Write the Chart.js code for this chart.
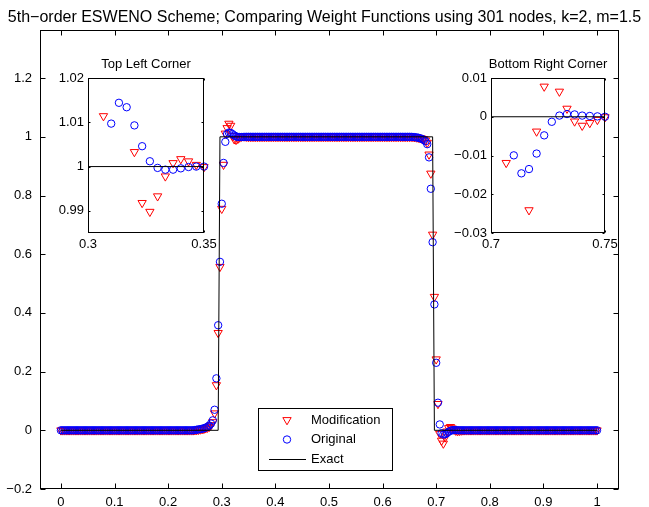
<!DOCTYPE html>
<html>
<head>
<meta charset="utf-8">
<script src="https://cdn.jsdelivr.net/npm/chart.js@4.4.1/dist/chart.umd.min.js"></script>
<style>
    body { margin: 0; background: #fff; }
    #wrap { position: relative; width: 649px; height: 507px; }
    #wrap canvas { position: absolute; }
</style>
</head>
<body>
<div id="wrap">
    <canvas id="main" width="649" height="507" style="left:0;top:0;"></canvas>
    <canvas id="tl" width="212" height="205" style="left:40px;top:50px;"></canvas>
    <canvas id="br" width="216" height="205" style="left:440px;top:50px;"></canvas>
</div>
<script>
// 301 nodes on [0, 1]
const nodeCount = 301;
const nodeStep = 1 / 300;

const modValues = [
    0,0,0,0,0,0,0,0,0,0,0,0,0,0,0,0,0,0,0,0,0,0,0,0,0,
    0,0,0,0,0,0,0,0,0,0,0,0,0,0,0,0,0,0,0,0,0,0,0,0,0,
    0,0,0,0,0,0,0,0,0,0,0,0,0,0,0,0,0,0,0,0,0,0,0,0,0,
    0.0005,0.001,0.002,0.003,0.004,0.005,0.007,0.009,0.012,0.018,0.028,0.058,0.154,0.332,0.557,0.755,0.905,1.0114,1.03,1.045,1.038,1.0033,0.9918,0.9898,0.9933,
    0.9978,1.0008,1.0017,1.0012,1.0004,0.9999,1,1,1,1,1,1,1,1,1,1,1,1,1,1,1,1,1,1,1,
    1,1,1,1,1,1,1,1,1,1,1,1,1,1,1,1,1,1,1,1,1,1,1,1,1,
    1,1,1,1,1,1,1,1,1,1,1,1,1,1,1,1,1,1,1,1,1,1,1,1,1,
    1,1,1,1,1,1,1,1,1,1,1,1,1,1,1,1,1,1,1,1,1,1,0.9995,0.999,0.998,
    0.997,0.996,0.994,0.992,0.988,0.98,0.94,0.875,0.667,0.455,0.242,0.09,-0.0119,-0.035,-0.045,-0.0241,-0.0038,0.0078,0.0115,0.0065,0.0021,-0.0012,-0.0023,-0.0016,-0.0008,
    -0.0001,0,0,0,0,0,0,0,0,0,0,0,0,0,0,0,0,0,0,0,0,0,0,0,0,
    0,0,0,0,0,0,0,0,0,0,0,0,0,0,0,0,0,0,0,0,0,0,0,0,0,
    0,0,0,0,0,0,0,0,0,0,0,0,0,0,0,0,0,0,0,0,0,0,0,0,0,
    0
];

const origValues = [
    0,0,0,0,0,0,0,0,0,0,0,0,0,0,0,0,0,0,0,0,0,0,0,0,0,
    0,0,0,0,0,0,0,0,0,0,0,0,0,0,0,0,0,0,0,0,0,0,0,0,0,
    0,0,0,0,0,0,0,0,0,0,0,0,0,0,0,0,0,0,0,0,0,0,0,0,0,
    0.001,0.002,0.003,0.004,0.005,0.007,0.009,0.012,0.016,0.023,0.034,0.07,0.177,0.358,0.574,0.772,0.911,0.983,1.0097,1.0144,1.0134,1.0093,1.0046,1.0012,0.9997,
    0.9993,0.9993,0.9996,0.9999,1,1,1,1,1,1,1,1,1,1,1,1,1,1,1,1,1,1,1,1,1,
    1,1,1,1,1,1,1,1,1,1,1,1,1,1,1,1,1,1,1,1,1,1,1,1,1,
    1,1,1,1,1,1,1,1,1,1,1,1,1,1,1,1,1,1,1,1,1,1,1,1,1,
    1,1,1,1,1,1,1,1,1,1,1,1,1,1,1,1,1,1,1,1,1,1,0.9995,0.999,0.998,
    0.997,0.995,0.993,0.99,0.985,0.975,0.93,0.823,0.641,0.429,0.23,0.094,0.02,-0.00996,-0.0146,-0.0135,-0.0095,-0.0048,-0.0013,0.0003,0.0007,0.0006,0.0003,0.0002,0.0001,
    0,0,0,0,0,0,0,0,0,0,0,0,0,0,0,0,0,0,0,0,0,0,0,0,0,
    0,0,0,0,0,0,0,0,0,0,0,0,0,0,0,0,0,0,0,0,0,0,0,0,0,
    0,0,0,0,0,0,0,0,0,0,0,0,0,0,0,0,0,0,0,0,0,0,0,0,0,
    0
];

const exactX = [0, 0.29333, 0.29667, 0.69333, 0.69667, 1];
const exactY = [0, 0, 1, 1, 0, 0];

const mainXTicks = [0, 0.1, 0.2, 0.3, 0.4, 0.5, 0.6, 0.7, 0.8, 0.9, 1];
const mainXLabels = ['0', '0.1', '0.2', '0.3', '0.4', '0.5', '0.6', '0.7', '0.8', '0.9', '1'];
const mainYTicks = [-0.2, 0, 0.2, 0.4, 0.6, 0.8, 1, 1.2];
const mainYLabels = ['\u22120.2', '0', '0.2', '0.4', '0.6', '0.8', '1', '1.2'];

const tlXTicks = [0.3, 0.35];
const tlXLabels = ['0.3', '0.35'];
const tlYTicks = [0.99, 1, 1.01, 1.02];
const tlYLabels = ['0.99', '1', '1.01', '1.02'];

const brXTicks = [0.7, 0.75];
const brXLabels = ['0.7', '0.75'];
const brYTicks = [-0.03, -0.02, -0.01, 0, 0.01];
const brYLabels = ['\u22120.03', '\u22120.02', '\u22120.01', '0', '0.01'];

const seriesNames = ['Modification', 'Original', 'Exact'];
const titleText = '5th\u2212order ESWENO Scheme; Comparing Weight Functions using 301 nodes, k=2, m=1.5';

const FONT = '"Liberation Sans", Arial, Helvetica, sans-serif';
const RED = '#ff0000';
const BLUE = '#0000ff';

function nodePoints(values, x0, x1, y0, y1) {
    var out = [];
    for (var i = 0; i < nodeCount; i++) {
        var x = i * nodeStep;
        var y = values[i];
        if (x < x0 - 1e-9 || x > x1 + 1e-9 || y < y0 || y > y1) continue;
        out.push({ x: x, y: y });
    }
    return out;
}

function exactPoints() {
    return exactX.map(function (x, i) { return { x: x, y: exactY[i] }; });
}

// MATLAB style box with inward ticks on all four sides
const boxTicks = {
    id: 'boxTicks',
    beforeDatasetsDraw(chart) {
        const a = chart.chartArea;
        const ctx = chart.ctx;
        ctx.save();
        ctx.fillStyle = '#fff';
        ctx.fillRect(a.left, a.top, a.right - a.left, a.bottom - a.top);
        ctx.restore();
    },
    afterDatasetsDraw(chart, args, opts) {
        const { ctx, chartArea: a, scales: { x, y } } = chart;
        const len = opts.len || 5;
        const L = Math.round(a.left) + 0.5, R = Math.round(a.right) - 0.5;
        const T = Math.round(a.top) + 0.5, B = Math.round(a.bottom) - 0.5;
        ctx.save();
        ctx.strokeStyle = '#000';
        ctx.lineWidth = 1;
        ctx.beginPath();
        x.ticks.forEach(function (t) {
            const px = Math.round(x.getPixelForValue(t.value)) + 0.5;
            ctx.moveTo(px, B); ctx.lineTo(px, B - len);
            ctx.moveTo(px, T); ctx.lineTo(px, T + len);
        });
        y.ticks.forEach(function (t) {
            const py = Math.round(y.getPixelForValue(t.value)) + 0.5;
            ctx.moveTo(L, py); ctx.lineTo(L + len, py);
            ctx.moveTo(R, py); ctx.lineTo(R - len, py);
        });
        ctx.stroke();
        ctx.strokeRect(L, T, R - L, B - T);
        ctx.restore();
    }
};

// legend box drawn inside the main axes
const boxLegend = {
    id: 'boxLegend',
    afterDraw(chart) {
        const ctx = chart.ctx;
        const bx = 258.5, by = 408.5, bw = 134, bh = 62;
        ctx.save();
        ctx.fillStyle = '#fff';
        ctx.fillRect(bx, by, bw, bh);
        ctx.strokeStyle = '#000';
        ctx.lineWidth = 1;
        ctx.strokeRect(bx, by, bw, bh);
        const rows = [420, 439.5, 459];
        ctx.strokeStyle = RED;
        Chart.helpers.drawPoint(ctx, { pointStyle: 'triangle', rotation: 180, radius: 4.8, borderWidth: 1 }, 287, rows[0]);
        ctx.strokeStyle = BLUE;
        Chart.helpers.drawPoint(ctx, { pointStyle: 'circle', radius: 3.7, borderWidth: 1 }, 287, rows[1]);
        ctx.strokeStyle = '#000';
        ctx.beginPath();
        ctx.moveTo(269, Math.round(rows[2]) + 0.5);
        ctx.lineTo(306, Math.round(rows[2]) + 0.5);
        ctx.stroke();
        ctx.fillStyle = '#000';
        ctx.font = '13px ' + FONT;
        ctx.textBaseline = 'middle';
        ctx.textAlign = 'left';
        seriesNames.forEach(function (name, i) {
            ctx.fillText(name, 311, rows[i]);
        });
        ctx.restore();
    }
};

function makeScale(min, max, ticks, labels, pad, fitSize, isX) {
    return {
        type: 'linear',
        min: min,
        max: max,
        grid: { display: false, drawTicks: false },
        border: { display: false },
        ticks: {
            color: '#000',
            font: { family: FONT, size: 13 },
            padding: pad,
            autoSkip: false,
            maxRotation: 0,
            callback: function (v, i) { return labels[i]; }
        },
        afterBuildTicks: function (scale) {
            scale.ticks = ticks.map(function (v) { return { value: v }; });
        },
        afterFit: function (scale) {
            if (isX) scale.height = fitSize; else scale.width = fitSize;
        }
    };
}

// empty right-hand axis, only reserves the right margin so titles stay centred on the canvas
function spacer(width) {
    return {
        type: 'linear',
        position: 'right',
        grid: { display: false, drawTicks: false },
        border: { display: false },
        ticks: { display: false },
        afterFit: function (scale) { scale.width = width; }
    };
}

function datasets(x0, x1, y0, y1) {
    return [
        {
            label: seriesNames[2],
            data: exactPoints(),
            showLine: true,
            borderColor: '#000',
            borderWidth: 1,
            pointRadius: 0,
            order: 0
        },
        {
            label: seriesNames[1],
            data: nodePoints(origValues, x0, x1, y0, y1),
            pointStyle: 'circle',
            pointRadius: 3.7,
            pointBorderWidth: 1,
            borderColor: BLUE,
            backgroundColor: 'rgba(0,0,0,0)',
            clip: false,
            order: 1
        },
        {
            label: seriesNames[0],
            data: nodePoints(modValues, x0, x1, y0, y1),
            pointStyle: 'triangle',
            rotation: 180,
            pointRadius: 4.8,
            pointBorderWidth: 1,
            borderColor: RED,
            backgroundColor: 'rgba(0,0,0,0)',
            clip: false,
            order: 2
        }
    ];
}

function commonPlugins(title, size, padTop, padBottom, tickLen) {
    return {
        legend: { display: false },
        tooltip: { enabled: false },
        title: {
            display: true,
            text: title,
            color: '#000',
            font: { family: FONT, size: size, weight: 'normal' },
            padding: { top: padTop, bottom: padBottom }
        },
        boxTicks: { len: tickLen }
    };
}

new Chart(document.getElementById('main'), {
    type: 'scatter',
    data: { datasets: datasets(-1, 2, -1, 2) },
    options: {
        responsive: false,
        animation: false,
        events: [],
        layout: { padding: 0 },
        plugins: commonPlugins(titleText, 16, 8, 2.8, 5),
        scales: {
            x: makeScale(-0.039, 1.041, mainXTicks, mainXLabels, 6, 18, true),
            y: makeScale(-0.2, 1.364, mainYTicks, mainYLabels, 8, 40, false),
            pad: spacer(30)
        }
    },
    plugins: [boxTicks, boxLegend]
});

new Chart(document.getElementById('tl'), {
    type: 'scatter',
    data: { datasets: datasets(0.3, 0.35, 0.985, 1.02) },
    options: {
        responsive: false,
        animation: false,
        events: [],
        layout: { padding: 0 },
        plugins: commonPlugins('Top Left Corner', 13, 6.2, 6.2, 2),
        scales: {
            x: makeScale(0.3, 0.35, tlXTicks, tlXLabels, 4, 22, true),
            y: makeScale(0.985, 1.02, tlYTicks, tlYLabels, 4, 48, false),
            pad: spacer(48)
        }
    },
    plugins: [boxTicks]
});

new Chart(document.getElementById('br'), {
    type: 'scatter',
    data: { datasets: datasets(0.7, 0.75, -0.03, 0.01) },
    options: {
        responsive: false,
        animation: false,
        events: [],
        layout: { padding: 0 },
        plugins: commonPlugins('Bottom Right Corner', 13, 6.2, 6.2, 2),
        scales: {
            x: makeScale(0.7, 0.75, brXTicks, brXLabels, 4, 22, true),
            y: makeScale(-0.03, 0.01, brYTicks, brYLabels, 4, 51, false),
            pad: spacer(51)
        }
    },
    plugins: [boxTicks]
});
</script>
</body>
</html>
